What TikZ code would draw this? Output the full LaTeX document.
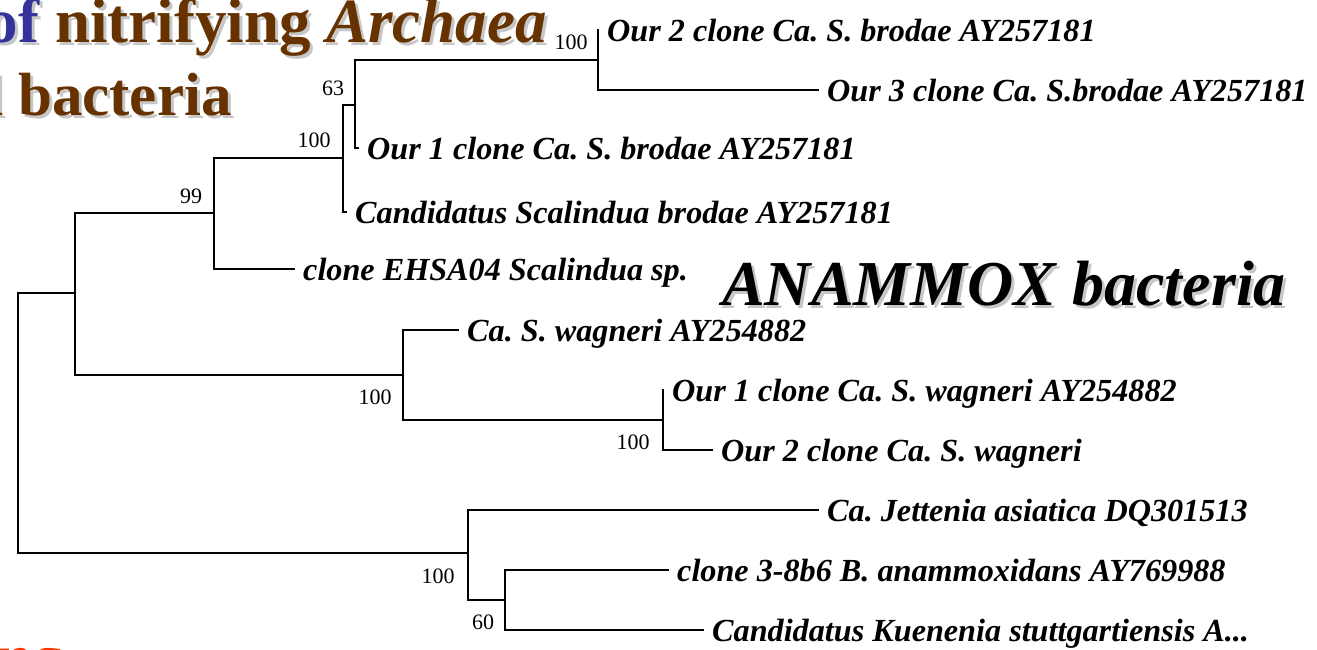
\documentclass[tikz,border=0pt]{standalone}
\usepackage{fontspec}
\setmainfont{Liberation Serif}
\definecolor{titlebrown}{HTML}{663300}
\definecolor{titleblue}{HTML}{333399}
\definecolor{orangered}{HTML}{FF3300}
\frenchspacing
\begin{document}
\begin{tikzpicture}[x=1pt,y=-1pt,
  br/.style={line width=2pt, line cap=rect},
  leaf/.style={anchor=west, inner xsep=9pt, inner ysep=0pt, text height=26pt, text depth=4pt,
    font=\fontsize{32.2}{32}\selectfont\bfseries\itshape\frenchspacing},
  boot/.style={inner sep=0pt, font=\fontsize{22}{22}\selectfont},
  big/.style={anchor=base west, inner sep=0pt, font=\fontsize{63}{63}\selectfont\bfseries},
  bigit/.style={anchor=base west, inner sep=0pt, font=\fontsize{64}{64}\selectfont\bfseries\itshape},
  shadow/.style={text=black!22}]
\useasboundingbox (0,0) rectangle (1317,649);
\clip (0,0) rectangle (1317,649);
% titles (partial, as cut off)
\node[big, shadow] at (58,45) {\llap{of }nitrifying \textit{Archaea}};
\node[big, text=titlebrown] (t1) at (55,42) {\llap{\textcolor{titleblue}{of} }nitrifying \textit{Archaea}};
\node[big, shadow, font=\fontsize{61}{61}\selectfont\bfseries] at (21,118) {\llap{and }bacteria};
\node[big, text=titlebrown, font=\fontsize{61}{61}\selectfont\bfseries] (t2) at (18,115) {\llap{and }bacteria};
\node[bigit, shadow] at (-2,681) {ng};
\node[bigit, text=orangered] (t3) at (-5,678) {ng};
\node[bigit, shadow] at (725,308) {ANAMMOX bacteria};
\node[bigit, text=black] (anx) at (722,305) {ANAMMOX bacteria};
% internal nodes
\coordinate (R) at (18,423);
\coordinate (A) at (75,293);
\coordinate (B) at (214,213);
\coordinate (C) at (343,158);
\coordinate (D) at (355,105);
\coordinate (E) at (598,60);
\coordinate (F) at (403,375);
\coordinate (G) at (663,420);
\coordinate (H) at (468,553);
\coordinate (I) at (505,600);
% leaves
\node[leaf] (l1) at (598,30) {Our 2 clone Ca. S. brodae AY257181};
\node[leaf] (l2) at (818,90) {Our 3 clone Ca. S.brodae AY257181};
\node[leaf] (l3) at (358,148) {Our 1 clone Ca. S. brodae AY257181};
\node[leaf] (l4) at (346,212) {Candidatus Scalindua brodae AY257181};
\node[leaf] (l5) at (294,269) {clone EHSA04 Scalindua sp.};
\node[leaf] (l6) at (458,330) {Ca. S. wagneri AY254882};
\node[leaf] (l7) at (663,390) {Our 1 clone Ca. S. wagneri AY254882};
\node[leaf] (l8) at (712,450) {Our 2 clone Ca. S. wagneri};
\node[leaf] (l9) at (818,510) {Ca. Jettenia asiatica DQ301513};
\node[leaf] (l10) at (668,570) {clone 3-8b6 B. anammoxidans AY769988};
\node[leaf] (l11) at (703,630) {Candidatus Kuenenia stuttgartiensis A...};
% branches
\draw[br] (R) |- (A);
\draw[br] (R) |- (H);
\draw[br] (A) |- (B);
\draw[br] (A) |- (F);
\draw[br] (B) |- (C);
\draw[br] (B) |- (l5.west);
\draw[br] (C) |- (D);
\draw[br] (C) |- (l4.west);
\draw[br] (D) |- (E);
\draw[br] (D) |- (l3.west);
\draw[br] (E) |- (l1.west);
\draw[br] (E) |- (l2.west);
\draw[br] (F) |- (l6.west);
\draw[br] (F) |- (G);
\draw[br] (G) |- (l7.west);
\draw[br] (G) |- (l8.west);
\draw[br] (H) |- (l9.west);
\draw[br] (H) |- (I);
\draw[br] (I) |- (l10.west);
\draw[br] (I) |- (l11.west);
% bootstrap values
\node[boot] (b99) at (191,196) {99};
\node[boot] (bC) at (314,140) {100};
\node[boot] (bD) at (333,88) {63};
\node[boot] (bE) at (571,42) {100};
\node[boot] (bF) at (375,397) {100};
\node[boot] (bG) at (633,442) {100};
\node[boot] (bH) at (438,576) {100};
\node[boot] (bI) at (483,622) {60};
\end{tikzpicture}
\end{document}
